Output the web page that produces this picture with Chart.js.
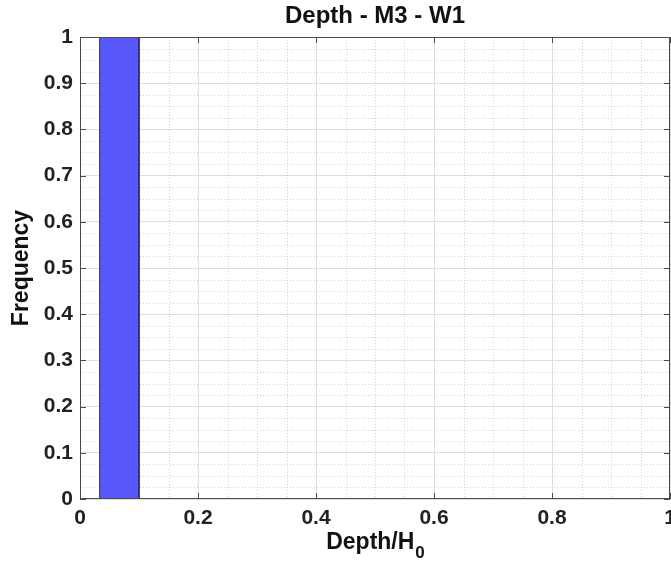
<!DOCTYPE html>
<html>
<head>
<meta charset="utf-8">
<script src="https://cdn.jsdelivr.net/npm/chart.js@4.4.1/dist/chart.umd.min.js"></script>
<style>
  html, body { margin: 0; padding: 0; background: #fff; }
  #wrap { width: 671px; height: 562px; }
</style>
</head>
<body>
<div id="wrap"><canvas id="histChart" width="671" height="562"></canvas></div>
<script>
// datos del histograma (bordes de bin y frecuencias)
const binEdges = [0.0333, 0.1];
const frequencies = [1];
const xTicks = [0, 0.2, 0.4, 0.6, 0.8, 1];
const yTicks = [0, 0.1, 0.2, 0.3, 0.4, 0.5, 0.6, 0.7, 0.8, 0.9, 1];

const chartTitle = 'Depth - M3 - W1';
const xTitle = 'Depth/H';
const xTitleSub = '0';
const yTitle = 'Frequency';

// rectángulo del bin a partir de los arrays
const barPoints = [];
frequencies.forEach((f, i) => {
    barPoints.push({ x: binEdges[i], y: 0 });
    barPoints.push({ x: binEdges[i], y: f });
    barPoints.push({ x: binEdges[i + 1], y: f });
    barPoints.push({ x: binEdges[i + 1], y: 0 });
});

const FONT = '"Liberation Sans", Arial, Helvetica, sans-serif';

// rejilla menor punteada, caja, ticks hacia dentro y títulos
const matlabAxes = {
    id: 'matlabAxes',
    beforeDatasetsDraw(chart) {
        const { ctx, chartArea: a, scales: { x, y } } = chart;
        ctx.save();
        ctx.strokeStyle = 'rgba(170,170,170,0.5)';
        ctx.lineWidth = 1;
        ctx.setLineDash([1, 2]);
        for (let v = 0.05; v < 1; v += 0.05) {
            if (Math.abs(v * 5 - Math.round(v * 5)) < 1e-6) continue;
            const px = Math.round(x.getPixelForValue(v)) + 0.5;
            ctx.beginPath(); ctx.moveTo(px, a.top); ctx.lineTo(px, a.bottom); ctx.stroke();
        }
        for (let v = 0.025; v < 1; v += 0.025) {
            if (Math.abs(v * 10 - Math.round(v * 10)) < 1e-6) continue;
            const py = Math.round(y.getPixelForValue(v)) + 0.5;
            ctx.beginPath(); ctx.moveTo(a.left, py); ctx.lineTo(a.right, py); ctx.stroke();
        }
        ctx.restore();
    },
    afterDraw(chart) {
        const { ctx, chartArea: a, scales: { x, y } } = chart;
        ctx.save();
        ctx.strokeStyle = '#4a4a4a';
        ctx.lineWidth = 1;
        ctx.strokeRect(a.left + 0.5, a.top + 0.5, a.right - a.left - 1, a.bottom - a.top - 1);
        // ticks hacia dentro
        xTicks.forEach(v => {
            const px = Math.round(x.getPixelForValue(v)) + 0.5;
            ctx.beginPath();
            ctx.moveTo(px, a.bottom); ctx.lineTo(px, a.bottom - 6);
            ctx.moveTo(px, a.top); ctx.lineTo(px, a.top + 6);
            ctx.stroke();
        });
        yTicks.forEach(v => {
            const py = Math.round(y.getPixelForValue(v)) + 0.5;
            ctx.beginPath();
            ctx.moveTo(a.left, py); ctx.lineTo(a.left + 6, py);
            ctx.moveTo(a.right, py); ctx.lineTo(a.right - 6, py);
            ctx.stroke();
        });
        // títulos
        ctx.fillStyle = '#111';
        ctx.textBaseline = 'middle';
        ctx.textAlign = 'center';
        const cx = (a.left + a.right) / 2;
        ctx.font = 'bold 24px ' + FONT;
        ctx.fillText(chartTitle, cx, 16);
        // título x con subíndice
        ctx.font = 'bold 23px ' + FONT;
        const mainW = ctx.measureText(xTitle).width;
        ctx.font = 'bold 17px ' + FONT;
        const subW = ctx.measureText(xTitleSub).width;
        const startX = cx - (mainW + subW) / 2;
        ctx.textAlign = 'left';
        ctx.font = 'bold 23px ' + FONT;
        ctx.fillText(xTitle, startX, 543);
        ctx.font = 'bold 17px ' + FONT;
        ctx.fillText(xTitleSub, startX + mainW + 1, 553);
        // título y
        ctx.translate(22, (a.top + a.bottom) / 2);
        ctx.rotate(-Math.PI / 2);
        ctx.textAlign = 'center';
        ctx.font = 'bold 23px ' + FONT;
        ctx.fillText(yTitle, 0, 0);
        ctx.restore();
    }
};

const ctx = document.getElementById('histChart').getContext('2d');
new Chart(ctx, {
    type: 'line',
    data: {
        datasets: [{
            data: barPoints,
            fill: 'origin',
            backgroundColor: 'rgb(88,88,250)',
            borderColor: 'rgb(40,40,120)',
            borderWidth: 1,
            pointRadius: 0,
            tension: 0
        }]
    },
    options: {
        responsive: false,
        animation: false,
        layout: { padding: { left: 0, right: 1, top: 37, bottom: 0 } },
        plugins: { legend: { display: false }, tooltip: { enabled: false } },
        scales: {
            x: {
                type: 'linear',
                min: 0, max: 1,
                afterBuildTicks: s => { s.ticks = xTicks.map(v => ({ value: v })); },
                afterFit: s => { s.height = 63; s.paddingLeft = 0; s.paddingRight = 0; },
                ticks: {
                    padding: 7,
                    color: '#222',
                    font: { family: FONT, size: 21, weight: 'bold' },
                    maxRotation: 0,
                    autoSkip: false,
                    callback: v => String(v)
                },
                grid: { color: 'rgb(222,222,222)', drawTicks: false },
                border: { display: false }
            },
            y: {
                type: 'linear',
                min: 0, max: 1,
                afterBuildTicks: s => { s.ticks = yTicks.map(v => ({ value: v })); },
                afterFit: s => { s.width = 80; s.paddingTop = 0; s.paddingBottom = 0; },
                ticks: {
                    padding: 7,
                    color: '#222',
                    font: { family: FONT, size: 21, weight: 'bold' },
                    autoSkip: false,
                    callback: v => String(v)
                },
                grid: { color: 'rgb(222,222,222)', drawTicks: false },
                border: { display: false }
            }
        }
    },
    plugins: [matlabAxes]
});
</script>
</body>
</html>
